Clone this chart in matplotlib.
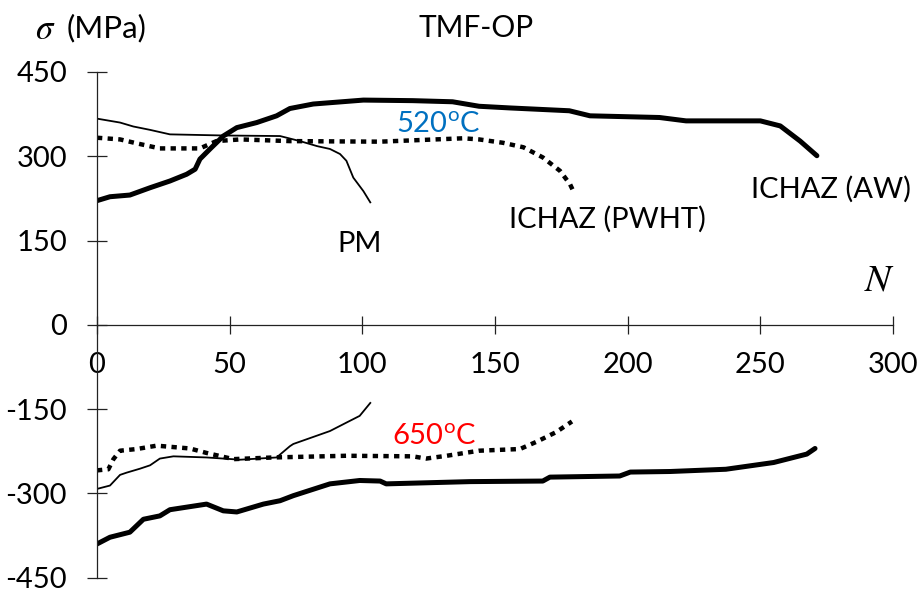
import matplotlib
matplotlib.use("Agg")
import matplotlib.pyplot as plt

plt.rcParams['font.family'] = ['Lato', 'DejaVu Sans']
plt.rcParams['mathtext.fontset'] = 'custom'
plt.rcParams['mathtext.rm'] = 'Lato'
plt.rcParams['mathtext.it'] = 'STIXGeneral:italic'
plt.rcParams['axes.unicode_minus'] = False

# 520 C (tension side)
aw520_n = [0, 4.9, 12.4, 20, 27.5, 33.8, 37, 38.8, 42.6, 47.6, 52.7, 60.2, 67.7, 72.7, 81.5,
           100.4, 119, 134, 144, 155.7, 178, 185.8, 212, 222, 250, 257.5, 265, 271.3]
aw520_s = [221, 228, 231, 244, 256, 268, 277, 295, 313, 336, 351, 360, 372, 385, 393,
           400, 399, 397, 389, 386, 381, 372, 369, 363, 363, 354, 327, 301]

pm520_n = [0, 8.7, 13.7, 20, 27.5, 47.6, 69, 76.5, 83, 87.8, 91.6, 94, 96.6, 100.4, 103]
pm520_s = [367, 360, 353, 347, 339, 337, 336, 327, 318, 313, 304, 292, 262, 238, 218]

pw520_n = [0, 8.7, 15, 23.7, 38.8, 45, 54, 72.7, 106.7, 138, 144, 153, 160.7, 168, 174.5, 178.3, 179.5]
pw520_s = [333, 330, 323, 314, 314, 327, 330, 327, 326, 332, 330, 324, 316, 298, 274, 250, 238]

# 650 C (compression side)
aw650_n = [0, 4.9, 12.4, 17.5, 23.7, 27.5, 41.3, 47.6, 52.7, 62.7, 69, 74, 87.8, 99, 106.7,
           109, 140.6, 168, 170.7, 197, 201, 216, 237, 255, 267.5, 270.6]
aw650_s = [-390, -378, -369, -346, -340, -329, -319, -331, -333, -319, -313, -304, -283, -277, -278,
           -283, -279, -278, -271, -269, -262, -261, -257, -245, -230, -220]

pm650_n = [0, 4.9, 8.7, 11.2, 16.2, 20, 23.7, 28.8, 41.3, 54, 67.7, 72.7, 74, 87.8, 94, 99, 103]
pm650_s = [-292, -286, -267, -263, -256, -250, -238, -234, -236, -240, -236, -216, -212, -189, -174, -162, -139]

pw650_n = [0, 4.3, 6.2, 8.7, 15, 22.5, 35, 41.3, 51.4, 66.5, 94, 119, 124, 131.8, 144, 159.4,
           165.7, 173, 179]
pw650_s = [-259, -257, -239, -224, -221, -215, -220, -228, -239, -236, -233, -234, -238, -233, -224, -221,
           -208, -191, -172]

xticks = [0, 50, 100, 150, 200, 250, 300]
yticks = [-450, -300, -150, 0, 150, 300, 450]

fig = plt.figure(figsize=(9.2, 5.93), dpi=100)
ax = fig.add_axes([0.1054, 0.0258, 0.8653, 0.8528])

thick = dict(color='black', lw=3.6, solid_capstyle='round', solid_joinstyle='round')
thin = dict(color='black', lw=1.3)
dots = dict(color='black', lw=3.2, linestyle=(0, (1.2, 1.2)), dash_capstyle='butt')

ax.plot(aw520_n, aw520_s, **thick)
ax.plot(pm520_n, pm520_s, **thin)
ax.plot(pw520_n, pw520_s, **dots)
ax.plot(aw650_n, aw650_s, **thick)
ax.plot(pm650_n, pm650_s, **thin)
ax.plot(pw650_n, pw650_s, **dots)

ax.set_xlim(0, 300)
ax.set_ylim(-450, 450)
ax.spines['top'].set_visible(False)
ax.spines['right'].set_visible(False)
ax.spines['left'].set_position(('data', 0))
ax.spines['bottom'].set_position(('data', 0))
for s in ['left', 'bottom']:
    ax.spines[s].set_color('#222222')
    ax.spines[s].set_linewidth(0.9)
ax.set_xticks(xticks)
ax.set_yticks(yticks)
ax.tick_params(axis='y', direction='inout', length=15, width=0.9, color='#222222', pad=14, labelsize=21)
ax.tick_params(axis='x', direction='inout', length=13, width=0.9, color='#222222', pad=13, labelsize=21)
for lab in ax.get_xticklabels() + ax.get_yticklabels():
    lab.set_clip_on(False)

fig.text(0.038, 0.951, r'$\sigma$', fontsize=25, ha='left', va='center')
fig.text(0.072, 0.953, '(MPa)', fontsize=22.5, ha='left', va='center')
fig.text(0.518, 0.953, 'TMF-OP', fontsize=21.5, ha='center', va='center')
ax.text(128.5, 357, r'520$^{\mathrm{o}}$C', color='#0070C0', fontsize=21, ha='center', va='center')
ax.text(127, -198, r'650$^{\mathrm{o}}$C', color='#FF0000', fontsize=21, ha='center', va='center')
ax.text(98.8, 143, 'PM', fontsize=21, ha='center', va='center')
ax.text(192.2, 188, 'ICHAZ (PWHT)', fontsize=21, ha='center', va='center')
ax.text(276.7, 241, 'ICHAZ (AW)', fontsize=21, ha='center', va='center')
ax.text(295, 81, r'$N$', fontsize=28, ha='center', va='center')

fig.savefig('out.png', dpi=100)
